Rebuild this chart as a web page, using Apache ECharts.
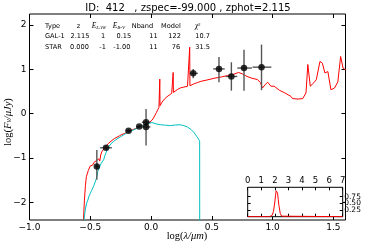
<!DOCTYPE html>
<html><head><meta charset="utf-8">
<script src="https://cdn.jsdelivr.net/npm/echarts@6/dist/echarts.min.js"></script>
<style>html,body{margin:0;padding:0;background:#fff}#c{width:368px;height:245px}</style>
</head><body><div id="c"></div><script>
// ---- data ----
const galX = [-0.60,-0.556,-0.548,-0.54,-0.532,-0.524,-0.516,-0.508,-0.50,-0.49,-0.48,-0.47,-0.46,-0.45,-0.44,-0.43,-0.422,-0.414,-0.405,-0.395,-0.385,-0.375,-0.365,-0.35,-0.336,-0.32,-0.30,-0.28,-0.26,-0.24,-0.22,-0.20,-0.18,-0.16,-0.14,-0.12,-0.10,-0.08,-0.06,-0.04,-0.02,0.0,0.015,0.03,0.045,0.055,0.065,0.07,0.072,0.074,0.09,0.11,0.13,0.15,0.17,0.18,0.182,0.184,0.2,0.22,0.24,0.27,0.30,0.316,0.318,0.32,0.35,0.38,0.41,0.46,0.52,0.58,0.63,0.68,0.72,0.75,0.79,0.83,0.876,0.9,0.917,0.94,0.96,0.986,1.013,1.027,1.055,1.1,1.151,1.165,1.21,1.248,1.275,1.29,1.31,1.34,1.36,1.39,1.41,1.43,1.455,1.48,1.51,1.537,1.56,1.58,1.60,1.62];
const galY = [-5,-2.4,-1.95,-1.62,-1.42,-1.38,-1.28,-1.3,-1.18,-1.14,-1.16,-1.1,-1.08,-1.06,-1.05,-1.02,-1.07,-0.93,-0.86,-0.84,-0.78,-0.77,-0.72,-0.67,-0.63,-0.6,-0.56,-0.53,-0.5,-0.47,-0.45,-0.42,-0.39,-0.37,-0.35,-0.33,-0.3,-0.28,-0.25,-0.22,-0.2,-0.17,-0.12,-0.05,0.03,0.09,0.14,0.16,0.78,0.18,0.26,0.33,0.38,0.42,0.46,0.47,0.93,0.48,0.52,0.55,0.58,0.6,0.62,0.62,1.5,0.63,0.67,0.7,0.73,0.76,0.8,0.83,0.86,0.89,0.93,0.9,0.84,0.8,0.77,0.7,0.58,0.66,0.71,0.62,0.62,0.6,0.53,0.47,0.39,0.34,0.33,0.34,0.47,1.11,0.62,0.7,0.77,1.18,1.14,0.92,0.95,0.54,0.58,0.72,1.29,1.03,0.99,1.05];
const starX = [-0.57,-0.552,-0.54,-0.53,-0.52,-0.51,-0.50,-0.49,-0.48,-0.47,-0.46,-0.452,-0.445,-0.438,-0.43,-0.42,-0.41,-0.40,-0.39,-0.38,-0.37,-0.36,-0.345,-0.33,-0.31,-0.28,-0.25,-0.22,-0.2,-0.17,-0.14,-0.11,-0.088,-0.06,-0.04,-0.02,0.008,0.04,0.08,0.12,0.16,0.2,0.24,0.27,0.3,0.33,0.355,0.375,0.39,0.40,0.401];
const starY = [-5,-2.4,-2.15,-2.02,-1.95,-1.86,-1.8,-1.74,-1.7,-1.62,-1.6,-1.48,-1.42,-1.3,-1.26,-1.18,-1.12,-1.08,-1.04,-0.95,-0.88,-0.81,-0.74,-0.68,-0.63,-0.57,-0.52,-0.47,-0.44,-0.4,-0.36,-0.32,-0.29,-0.26,-0.24,-0.22,-0.2,-0.23,-0.25,-0.26,-0.27,-0.255,-0.25,-0.27,-0.3,-0.36,-0.43,-0.51,-0.57,-0.62,-5];
const obsX  = [-0.446,-0.37,-0.185,-0.097,-0.041,-0.041,0.347,0.559,0.661,0.765,0.909];
const obsY  = [-1.19,-0.77,-0.385,-0.29,-0.195,-0.30,0.91,1.01,0.84,1.03,1.05];
const obsXLo = [-0.46,-0.419,-0.21,-0.12,-0.075,-0.075,0.319,0.512,0.614,0.71,0.835];
const obsXHi = [-0.43,-0.322,-0.16,-0.075,-0.005,-0.005,0.385,0.606,0.71,0.83,0.99];
const obsYLo = [-1.49,-0.82,-0.42,-0.32,-0.23,-0.72,0.80,0.71,0.52,0.52,0.53];
const obsYHi = [-0.82,-0.72,-0.35,-0.26,-0.16,0.106,1.01,1.28,1.16,1.445,1.56];
const pdfZ = [0,1.6,1.7,1.8,1.9,2.0,2.05,2.1,2.15,2.2,2.25,2.3,2.4,2.5,7];
const pdfP = [0,0,0.01,0.05,0.2,0.55,0.8,0.97,1.0,0.88,0.65,0.42,0.12,0.02,0];
const xTicks = [-1.0,-0.5,0.0,0.5,1.0,1.5];
const yTicks = [-2,-1,0,1,2];
const insetXTicks = [0,1,2,3,4,5,6,7];
const insetYTicks = [0.25,0.5,0.75];
const titleText = 'ID:  412   , zspec=-99.000 , zphot=2.115';
const tableHeader = ['Type','z','{e|E}{s|LAW}','{e|E}{s|B-V}','Nband','Model','{c|χ}{p|2}'];
const galRow  = ['GAL-1','2.115','1','0.15','11','122','10.7'];
const starRow = ['STAR','0.000','-1','-1.00','11','76','31.5'];

// ---- layout ----
const minus = s => String(s).replace('-', '\u2212');
const chart = echarts.init(document.getElementById('c'), null, {renderer:'canvas'});
const tickFont = {fontFamily:'DejaVu Sans', fontSize:9, color:'#000'};
function ax(base){ return Object.assign({type:'value', axisLine:{show:false, onZero:false}, splitLine:{show:false}}, base); }
const headerX = [45,76.7,91.7,112.7,131.7,161,195];
const galXpos = [45,70.5,101,116.5,149.3,168.3,195.3];
const starXpos = [45,70,99.3,113.3,149.3,171.7,195.3];
const rowY = [26, 36.7, 47.3];
const serif = 'Liberation Serif';
const rich = {
  e:{fontFamily:serif, fontStyle:'italic', fontSize:7.5, fill:'#000', color:'#000'},
  s:{fontFamily:serif, fontStyle:'italic', fontSize:5, verticalAlign:'bottom', fill:'#000', color:'#000'},
  c:{fontFamily:serif, fontStyle:'italic', fontSize:7.5, fill:'#000', color:'#000'},
  p:{fontFamily:serif, fontSize:4.5, verticalAlign:'top', fill:'#000', color:'#000'}
};
const graphics = [];
function addText(x,y,text,opt){
  graphics.push({type:'text', x:x, y:y, silent:true, z:100,
    style:Object.assign({text:text, fill:'#000', font:'6.6px DejaVu Sans', textAlign:'left', textVerticalAlign:'middle'}, opt||{})});
}
addText(188, 8, titleText, {font:'10px DejaVu Sans', textAlign:'center'});
tableHeader.forEach((t,i)=>addText(headerX[i], rowY[0], t, {rich:rich}));
galRow.forEach((t,i)=>addText(galXpos[i], rowY[1], t));
starRow.forEach((t,i)=>addText(starXpos[i], rowY[2], t));
const labRich = {
  n:{fontFamily:serif, fontSize:10.5, fill:'#000', color:'#000'},
  i:{fontFamily:serif, fontStyle:'italic', fontSize:10.5, fill:'#000', color:'#000'},
  b:{fontFamily:serif, fontStyle:'italic', fontSize:7.5, verticalAlign:'bottom', fill:'#000', color:'#000'}
};
addText(187, 236, '{n|log(}{i|λ/μm}{n|)}', {rich:labRich, textAlign:'center'});
graphics.push({type:'text', x:8, y:122, rotation:Math.PI/2, silent:true, z:100,
  style:{text:'{n|log(}{i|F}{b|ν}{i|/μJy}{n|)}', rich:labRich, textAlign:'center', textVerticalAlign:'middle', fill:'#000'}});

const errData = obsX.map((x,i)=>[x, obsY[i], obsXLo[i], obsXHi[i], obsYLo[i], obsYHi[i]]);

const insetRight = 247.7 + 95;
chart.setOption({
  animation:false,
  backgroundColor:'#fff',
  grid:[
    {left:29.5, top:14, width:316, height:206, show:true, borderColor:'#000', borderWidth:1, backgroundColor:'transparent'},
    {left:247.7, top:187.3, width:95, height:29.4, show:true, borderColor:'#000', borderWidth:1, backgroundColor:'#fff', z:5}
  ],
  xAxis:[
    ax({gridIndex:0, min:-1, max:1.6, position:'bottom',
      axisTick:{inside:true, length:4, customValues:xTicks, lineStyle:{color:'#000'}},
      axisLabel:Object.assign({customValues:xTicks, margin:3, formatter:v=>minus(v.toFixed(1))}, tickFont)}),
    ax({gridIndex:0, min:-1, max:1.6, position:'top',
      axisTick:{inside:true, length:4, customValues:xTicks, lineStyle:{color:'#000'}}, axisLabel:{show:false}}),
    ax({gridIndex:1, min:0, max:7, position:'top', z:6,
      axisTick:{inside:true, length:3, customValues:insetXTicks, lineStyle:{color:'#000'}},
      axisLabel:Object.assign({customValues:insetXTicks, margin:2, formatter:v=>String(v)}, tickFont, {fontSize:8.5})}),
    ax({gridIndex:1, min:0, max:7, position:'bottom', z:6,
      axisTick:{inside:true, length:3, customValues:insetXTicks, lineStyle:{color:'#000'}}, axisLabel:{show:false}})
  ],
  yAxis:[
    ax({gridIndex:0, min:-2.4, max:2.25, position:'left',
      axisTick:{inside:true, length:4, customValues:yTicks, lineStyle:{color:'#000'}},
      axisLabel:Object.assign({customValues:yTicks, margin:3, formatter:v=>minus(Math.round(v))}, tickFont)}),
    ax({gridIndex:0, min:-2.4, max:2.25, position:'right',
      axisTick:{inside:true, length:4, customValues:yTicks, lineStyle:{color:'#000'}}, axisLabel:{show:false}}),
    ax({gridIndex:1, min:0, max:1.1, position:'right', z:6,
      axisTick:{inside:true, length:3, customValues:insetYTicks, lineStyle:{color:'#000'}}, axisLabel:{show:false}}),
    ax({gridIndex:1, min:0, max:1.1, position:'left', z:6,
      axisTick:{inside:true, length:3, customValues:insetYTicks, lineStyle:{color:'#000'}}, axisLabel:{show:false}})
  ],
  series:[
    {type:'line', xAxisIndex:0, yAxisIndex:0, data:galX.map((x,i)=>[x,galY[i]]), showSymbol:false, symbol:'none',
      lineStyle:{color:'#ff0000', width:1}, clip:true, z:2},
    {type:'line', xAxisIndex:0, yAxisIndex:0, data:starX.map((x,i)=>[x,starY[i]]), showSymbol:false, symbol:'none',
      lineStyle:{color:'#00bfbf', width:1}, clip:true, z:2},
    {type:'custom', xAxisIndex:0, yAxisIndex:0, data:errData, encode:{x:0,y:1}, z:3, clip:true,
      renderItem:(params, api)=>{
        const x=api.value(0), y=api.value(1);
        const pL=api.coord([api.value(2),y]), pR=api.coord([api.value(3),y]);
        const pB=api.coord([x,api.value(4)]), pT=api.coord([x,api.value(5)]);
        const st={stroke:'#555', lineWidth:1.4};
        return {type:'group', children:[
          {type:'line', shape:{x1:pL[0],y1:pL[1],x2:pR[0],y2:pR[1]}, style:st},
          {type:'line', shape:{x1:pB[0],y1:pB[1],x2:pT[0],y2:pT[1]}, style:st}
        ]};
      }},
    {type:'scatter', xAxisIndex:0, yAxisIndex:0, data:obsX.map((x,i)=>[x,obsY[i]]), symbol:'circle', symbolSize:6.5,
      itemStyle:{color:'#000'}, z:4},
    {type:'line', xAxisIndex:2, yAxisIndex:2, data:pdfZ.map((x,i)=>[x,pdfP[i]]), showSymbol:false, symbol:'none',
      lineStyle:{color:'#ff0000', width:1}, z:7}
  ],
  graphic:graphics
});
// inset y tick labels placed through the inset axis scale (they overlap, as in the reference)
const insetLabels = insetYTicks.map(v => {
  const py = chart.convertToPixel({yAxisIndex:2}, v);
  return {type:'text', x:insetRight + 1.5, y:py, silent:true, z:100,
    style:{text:v.toFixed(2), fill:'#000', font:'7.5px DejaVu Sans', textAlign:'left', textVerticalAlign:'middle'}};
});
chart.setOption({graphic:graphics.concat(insetLabels)});
</script></body></html>
